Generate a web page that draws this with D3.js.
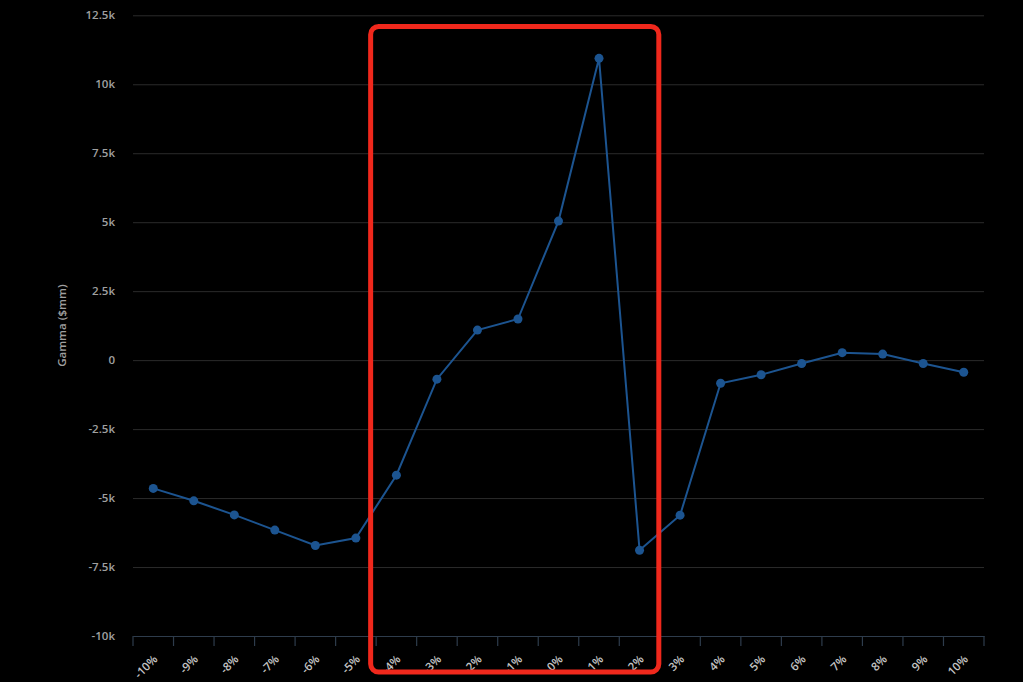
<!DOCTYPE html>
<html>
<head>
<meta charset="utf-8">
<script src="https://cdn.jsdelivr.net/npm/d3@7"></script>
<style>
  html, body { margin: 0; padding: 0; background: #000; }
  svg { display: block; }
</style>
</head>
<body>
<svg id="chart" width="1023" height="682"></svg>
<script>
const categories = ["-10%","-9%","-8%","-7%","-6%","-5%","-4%","-3%","-2%","-1%","0%","1%","2%","3%","4%","5%","6%","7%","8%","9%","10%"];
const gammaValues = [-4.65,-5.10,-5.61,-6.16,-6.72,-6.45,-4.17,-0.69,1.09,1.49,5.04,10.94,-6.89,-5.62,-0.84,-0.53,-0.12,0.27,0.22,-0.12,-0.44];
const yTicks = [-10,-7.5,-5,-2.5,0,2.5,5,7.5,10,12.5];
const yTickLabels = ["-10k","-7.5k","-5k","-2.5k","0","2.5k","5k","7.5k","10k","12.5k"];
const yTitle = "Gamma ($mm)";
const highlightRange = ["-4%","2%"];

(function () {
const svg = d3.select("#chart");
const mLeft = 133, mRight = 984, mTop = 15.3, mBottom = 636;

const x = d3.scaleBand().domain(categories).range([mLeft, mRight]).padding(0);
const y = d3.scaleLinear().domain([-10, 12.5]).range([mBottom, mTop]);

svg.append("rect").attr("width", 1023).attr("height", 682).attr("fill", "#000");

// gridlines + y labels
const yAxis = d3.axisLeft(y).tickValues(yTicks)
  .tickFormat((d, i) => yTickLabels[i]).tickSize(-(mRight - mLeft)).tickPadding(18);
const gy = svg.append("g").attr("transform", `translate(${mLeft},0)`).call(yAxis);
gy.select(".domain").remove();
gy.selectAll(".tick line").attr("stroke", "#2b2b2b").attr("stroke-width", 1);
gy.selectAll(".tick text").attr("fill", "#a0a0a0").attr("font-family", "Open Sans, DejaVu Sans, sans-serif").attr("font-size", 11.5).attr("font-weight", 600);

// x axis
const xAxis = d3.axisBottom(x).tickSize(10).tickSizeOuter(0);
const gx = svg.append("g").attr("transform", `translate(0,${mBottom})`).call(xAxis);
gx.select(".domain").attr("stroke", "#2e3c4c").attr("stroke-width", 1.2);
gx.selectAll(".tick line").remove();
const boundaries = categories.map(c => x(c)).concat([mRight]);
gx.selectAll("line.bt").data(boundaries).enter().append("line").attr("class","bt")
  .attr("x1", d => d).attr("x2", d => d).attr("y1", 0).attr("y2", 10)
  .attr("stroke", "#2e3c4c").attr("stroke-width", 1.2);
gx.selectAll(".tick text")
  .attr("fill", "#c4c4c4")
  .attr("font-family", "Open Sans, DejaVu Sans, sans-serif")
  .attr("font-size", 11.5)
  .attr("font-weight", 600)
  .attr("text-anchor", "end")
  .attr("dy", 0)
  .attr("y", 0)
  .attr("transform", "translate(5,24) rotate(-45)");

// y title
svg.append("text")
  .attr("transform", `translate(66,${(mTop + mBottom) / 2}) rotate(-90)`)
  .attr("text-anchor", "middle")
  .attr("fill", "#a0a0a0")
  .attr("font-family", "Open Sans, DejaVu Sans, sans-serif")
  .attr("font-size", 11.5)
  .attr("font-weight", 600)
  .text(yTitle);

// line + markers
const cx = c => x(c) + x.bandwidth() / 2;
const line = d3.line().x((d, i) => cx(categories[i])).y(d => y(d));
svg.append("path").datum(gammaValues)
  .attr("fill", "none").attr("stroke", "#1c5490").attr("stroke-width", 2)
  .attr("d", line);
svg.selectAll("circle.pt").data(gammaValues).enter().append("circle").attr("class","pt")
  .attr("cx", (d, i) => cx(categories[i])).attr("cy", d => y(d)).attr("r", 4.5)
  .attr("fill", "#1c5490");

// red highlight box
const hx0 = x(highlightRange[0]) - 5.5;
const hx1 = x(highlightRange[1]) + x.bandwidth() - 1;
svg.append("rect")
  .attr("x", hx0).attr("y", 26.5)
  .attr("width", hx1 - hx0).attr("height", 672 - 26.5)
  .attr("rx", 8).attr("ry", 8)
  .attr("fill", "none").attr("stroke", "#f0281c").attr("stroke-width", 5);
})();
</script>
</body>
</html>
